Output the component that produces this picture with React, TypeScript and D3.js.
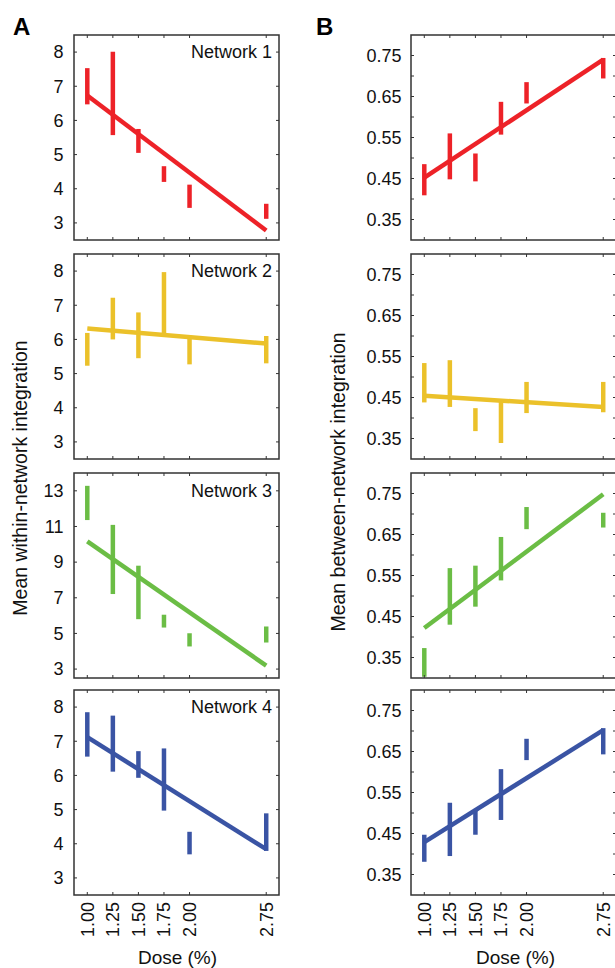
import React from 'react';
import * as d3 from 'd3';

// doses on the x axis
const doses = [1.0, 1.25, 1.5, 1.75, 2.0, 2.75];
const doseLabels = ['1.00', '1.25', '1.50', '1.75', '2.00', '2.75'];
const networkNames = ['Network 1', 'Network 2', 'Network 3', 'Network 4'];
const colors = ['#ED2228', '#EBC12A', '#6BBD45', '#3A54A4'];

// within-network integration (mean, sem) per network
const withinMean = [
  [7.0, 6.79, 5.4, 4.43, 3.78, 3.34],
  [5.71, 6.61, 6.12, 7.07, 5.69, 5.7],
  [12.32, 9.15, 7.3, 5.69, 4.64, 4.94],
  [7.2, 6.93, 6.32, 5.88, 4.02, 4.34],
];
const withinSem = [
  [0.53, 1.22, 0.35, 0.23, 0.34, 0.22],
  [0.48, 0.61, 0.67, 0.9, 0.42, 0.4],
  [0.96, 1.94, 1.5, 0.36, 0.37, 0.45],
  [0.65, 0.82, 0.39, 0.91, 0.33, 0.55],
];
// regression line values at dose 1.00 and 2.75
const withinFit = [
  [6.73, 2.78],
  [6.32, 5.88],
  [10.16, 3.19],
  [7.12, 3.84],
];

// between-network integration
const betweenMean = [
  [0.447, 0.504, 0.477, 0.597, 0.659, 0.719],
  [0.486, 0.484, 0.396, 0.389, 0.45, 0.451],
  [0.338, 0.499, 0.524, 0.591, 0.69, 0.685],
  [0.414, 0.46, 0.478, 0.545, 0.655, 0.675],
];
const betweenSem = [
  [0.038, 0.056, 0.034, 0.04, 0.026, 0.025],
  [0.048, 0.057, 0.028, 0.05, 0.038, 0.037],
  [0.035, 0.069, 0.05, 0.053, 0.027, 0.018],
  [0.033, 0.065, 0.031, 0.062, 0.026, 0.032],
];
const betweenFit = [
  [0.452, 0.74],
  [0.454, 0.427],
  [0.422, 0.748],
  [0.429, 0.702],
];

const withinTicks = [3, 4, 5, 6, 7, 8];
const withinTicks3 = [3, 5, 7, 9, 11, 13];
const betweenTicks = [0.35, 0.45, 0.55, 0.65, 0.75];
const betweenMinor = [0.35, 0.4, 0.45, 0.5, 0.55, 0.6, 0.65, 0.7, 0.75];

const font = '"Liberation Sans", Arial, Helvetica, sans-serif';
const panelW = 205;
const panelH = 205;
const tops = [35, 254, 473, 690];
const axisColor = '#333';

type PanelProps = {
  left: number;
  top: number;
  idx: number;
  mean: number[];
  sem: number[];
  fit: number[];
  yDomain: [number, number];
  ticks: number[];
  minor: number[];
  fmt: (v: number) => string;
  labelGap: number;
  showName: boolean;
  showX: boolean;
};

const Panel = (p: PanelProps) => {
  const x = d3.scaleLinear().domain([0.87, 2.875]).range([0, panelW]);
  const y = d3.scaleLinear().domain(p.yDomain).range([panelH, 0]);
  const color = colors[p.idx];
  const fitLine = d3.line<number>()
    .x((_, i) => x(i === 0 ? doses[0] : doses[doses.length - 1]))
    .y(d => y(d));
  const tl = 3;
  return (
    <g transform={`translate(${p.left},${p.top})`}>
      {/* error bars */}
      {doses.map((d, i) => (
        <line key={'e' + i} x1={x(d)} x2={x(d)}
          y1={y(p.mean[i] - p.sem[i])} y2={y(p.mean[i] + p.sem[i])}
          stroke={color} strokeWidth={4.5} />
      ))}
      <path d={fitLine(p.fit) || ''} stroke={color} strokeWidth={4.5} fill="none" />
      {/* frame */}
      <rect x={0} y={0} width={panelW} height={panelH} fill="none" stroke={axisColor} strokeWidth={1.5} />
      {doses.map((d, i) => (
        <g key={'xt' + i}>
          <line x1={x(d)} x2={x(d)} y1={panelH} y2={panelH - tl} stroke={axisColor} strokeWidth={1} />
          <line x1={x(d)} x2={x(d)} y1={0} y2={tl} stroke={axisColor} strokeWidth={1} />
        </g>
      ))}
      {p.minor.map((v, i) => (
        <g key={'yt' + i}>
          <line x1={0} x2={tl} y1={y(v)} y2={y(v)} stroke={axisColor} strokeWidth={1} />
          <line x1={panelW} x2={panelW - tl} y1={y(v)} y2={y(v)} stroke={axisColor} strokeWidth={1} />
        </g>
      ))}
      {p.ticks.map((v, i) => (
        <text key={'yl' + i} x={-p.labelGap} y={y(v)} dy="0.35em" textAnchor="end"
          fontSize={18} fontFamily={font} fill="#111">{p.fmt(v)}</text>
      ))}
      {p.showName && (
        <text x={panelW - 7} y={y(p.ticks[p.ticks.length - 1])} dy="0.35em" textAnchor="end"
          fontSize={18} fontFamily={font} fill="#111">{networkNames[p.idx]}</text>
      )}
      {p.showX && doses.map((d, i) => (
        <text key={'xl' + i} transform={`translate(${x(d)},${panelH + 7}) rotate(-90)`}
          dy="0.35em" textAnchor="end" fontSize={18} fontFamily={font} fill="#111">{doseLabels[i]}</text>
      ))}
    </g>
  );
};

export default function App() {
  const leftA = 74;
  const leftB = 411;
  return (
    <svg width={615} height={968} style={{ position: 'absolute', left: 0, top: 0, background: '#fff' }}>
      <text x={13} y={35} fontSize={24} fontWeight="bold" fontFamily={font} fill="#000">A</text>
      <text x={316} y={35} fontSize={24} fontWeight="bold" fontFamily={font} fill="#000">B</text>
      {tops.map((t, i) => (
        <Panel key={'a' + i} left={leftA} top={t} idx={i}
          mean={withinMean[i]} sem={withinSem[i]} fit={withinFit[i]}
          yDomain={i === 2 ? [2.5, 14] : [2.5, 8.5]}
          ticks={i === 2 ? withinTicks3 : withinTicks}
          minor={i === 2 ? withinTicks3 : withinTicks}
          fmt={v => String(v)} labelGap={10.5} showName={true} showX={i === 3} />
      ))}
      {tops.map((t, i) => (
        <Panel key={'b' + i} left={leftB} top={t} idx={i}
          mean={betweenMean[i]} sem={betweenSem[i]} fit={betweenFit[i]}
          yDomain={[0.3, 0.8]} ticks={betweenTicks} minor={betweenMinor}
          fmt={v => v.toFixed(2)} labelGap={9.5} showName={false} showX={i === 3} />
      ))}
      <text transform="translate(26.5,478) rotate(-90)" textAnchor="middle" fontSize={19.5}
        fontFamily={font} fill="#111">Mean within-network integration</text>
      <text transform="translate(345,482) rotate(-90)" textAnchor="middle" fontSize={19.5}
        fontFamily={font} fill="#111">Mean between-network integration</text>
      <text x={177.5} y={964} textAnchor="middle" fontSize={19} fontFamily={font} fill="#111">Dose (%)</text>
      <text x={515.5} y={964} textAnchor="middle" fontSize={19} fontFamily={font} fill="#111">Dose (%)</text>
    </svg>
  );
}
